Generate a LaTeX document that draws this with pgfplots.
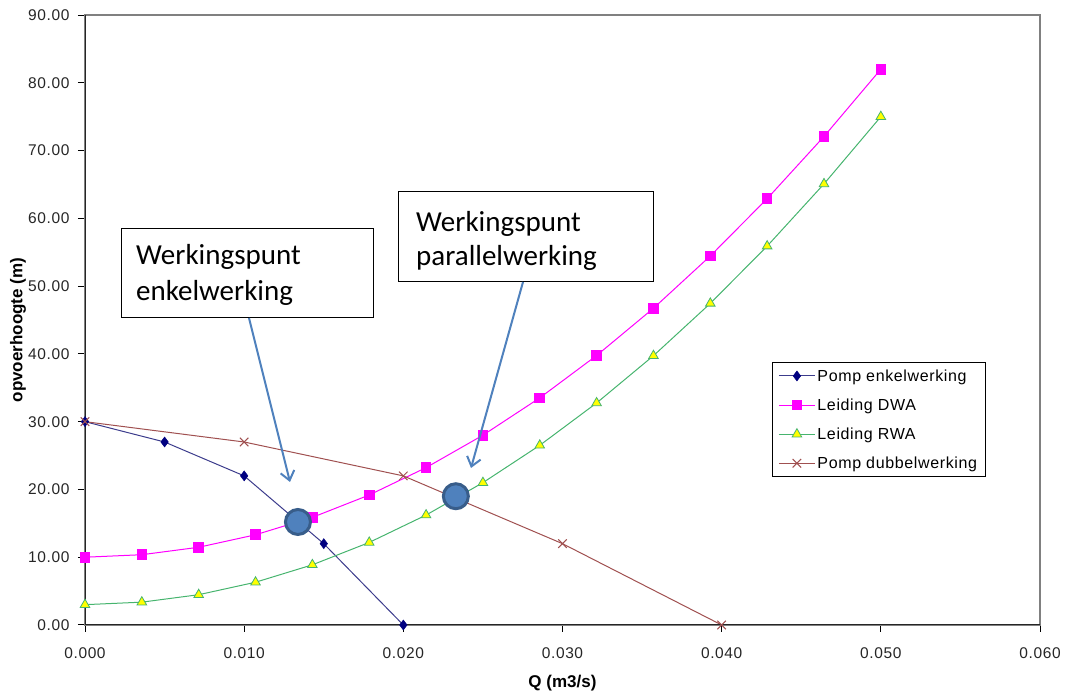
\documentclass[border=0pt]{standalone}
\usepackage{fontspec}
\setmainfont{Liberation Sans}
\newfontfamily\calibri{Carlito}
\newfontfamily\legfont[LetterSpace=4]{Liberation Sans}
\usepackage{pgfplots}
\pgfplotsset{compat=1.18}
\usetikzlibrary{arrows.meta}
\definecolor{pnavy}{RGB}{0,0,128}
\definecolor{pnavyline}{RGB}{60,60,140}
\definecolor{pmag}{RGB}{255,0,255}
\definecolor{pgreen}{RGB}{70,180,110}
\definecolor{pyellow}{RGB}{255,255,0}
\definecolor{pbrown}{RGB}{160,80,80}
\definecolor{pblue}{RGB}{79,129,189}
\definecolor{pdblue}{RGB}{56,93,138}
\begin{document}
\begin{tikzpicture}
\useasboundingbox (0pt,0pt) rectangle (1065pt,695pt);
\begin{axis}[
  at={(85pt,70pt)}, anchor=south west,
  scale only axis, width=955pt, height=610pt,
  xmin=0, xmax=0.06, ymin=0, ymax=90,
  xtick={0,0.01,0.02,0.03,0.04,0.05,0.06},
  ytick={0,10,20,30,40,50,60,70,80,90},
  scaled x ticks=false, scaled y ticks=false,
  xticklabel style={/pgf/number format/.cd, fixed, fixed zerofill, precision=3},
  yticklabel style={/pgf/number format/.cd, fixed, fixed zerofill, precision=2},
  /pgf/number format/assume math mode=true,
  tick label style={font=\legfont\fontsize{15.5}{18}\selectfont, text=black!85},
  xtick pos=bottom, ytick pos=left, tick align=outside, major tick length=7pt,
  tick style={black, line width=1pt},
  axis line style={draw=gray, line width=1.2pt},
  xticklabel shift=12pt, yticklabel shift=5pt,
  xlabel={\textbf{Q (m3/s)}}, ylabel={\textbf{opvoerhoogte (m)}},
  label style={font=\fontsize{17}{20}\selectfont},
  xlabel style={at={(axis description cs:0.5,-0.095)}, anchor=center},
  ylabel style={at={(axis description cs:-0.0702,0.4836)}, anchor=center},
  legend style={at={(rel axis cs:0.7194,0.4311)}, anchor=north west,
    draw=black, line width=0.8pt, font=\legfont\fontsize{16}{19}\selectfont,
    inner xsep=6pt, inner ysep=5pt, row sep=12pt, cells={anchor=west}},
  legend image code/.code={\draw[mark repeat=2,mark phase=2,#1] plot coordinates {(0pt,0pt) (18pt,0pt) (36pt,0pt)};},
]
\addplot[pnavyline, line width=1pt, mark=diamond*, mark size=5pt, mark options={draw=pnavy, fill=pnavy, line width=0.5pt}]
  coordinates {(0,30) (0.005,27) (0.010,22) (0.015,12) (0.020,0)};
\addlegendentry{Pomp enkelwerking}
\addplot[pmag, line width=1pt, mark=square*, mark size=4.8pt, mark options={fill=pmag, draw=pmag}]
  coordinates {(0,10) (0.003571,10.37) (0.007143,11.47) (0.010714,13.31) (0.014286,15.88)
  (0.017857,19.18) (0.021429,23.22) (0.025,28.00) (0.028571,33.51) (0.032143,39.76)
  (0.035714,46.73) (0.039286,54.45) (0.042857,62.90) (0.046429,72.08) (0.05,82.00)};
\addlegendentry{Leiding DWA}
\addplot[pgreen, line width=1pt, mark=triangle*, mark size=5.5pt, mark options={fill=pyellow, draw=pgreen, line width=0.8pt}]
  coordinates {(0,3) (0.003571,3.37) (0.007143,4.47) (0.010714,6.31) (0.014286,8.88)
  (0.017857,12.18) (0.021429,16.22) (0.025,21.00) (0.028571,26.51) (0.032143,32.76)
  (0.035714,39.73) (0.039286,47.45) (0.042857,55.90) (0.046429,65.08) (0.05,75.00)};
\addlegendentry{Leiding RWA}
\addplot[pbrown, line width=1pt, mark=x, mark size=6pt, mark options={draw=pbrown, line width=1pt}]
  coordinates {(0,30) (0.01,27) (0.02,22) (0.03,12) (0.04,0)};
\addlegendentry{Pomp dubbelwerking}
\addplot[only marks, mark=*, mark size=12.5pt, mark options={fill=pblue, draw=pdblue, line width=3pt}, forget plot]
  coordinates {(0.01338,15.2) (0.0233,19.0)};
\draw[black!85, line width=1.4pt] (rel axis cs:0,0) -- (rel axis cs:0,1);
\draw[black!85, line width=1.4pt] (rel axis cs:0,0) -- (rel axis cs:1,0);
\end{axis}
% annotation boxes
\draw[black, line width=1pt, fill=white] (121pt,466pt) rectangle (373pt,377pt);
\node[anchor=base west, inner sep=0pt, font=\calibri\fontsize{29}{34}\selectfont] at (136pt,430pt) {Werkingspunt};
\node[anchor=base west, inner sep=0pt, font=\calibri\fontsize{29}{34}\selectfont] at (136pt,394pt) {enkelwerking};
\draw[black, line width=1pt, fill=white] (398pt,503pt) rectangle (653pt,413pt);
\node[anchor=base west, inner sep=0pt, font=\calibri\fontsize{29}{34}\selectfont] at (416pt,463pt) {Werkingspunt};
\node[anchor=base west, inner sep=0pt, font=\calibri\fontsize{29}{34}\selectfont] at (416pt,429pt) {parallelwerking};
\draw[pblue, line width=2pt, -{Straight Barb[length=9pt,width=14pt]}] (249pt,377pt) -- (290pt,213pt);
\draw[pblue, line width=2pt, -{Straight Barb[length=9pt,width=14pt]}] (523pt,413pt) -- (471pt,227pt);
\end{tikzpicture}
\end{document}
